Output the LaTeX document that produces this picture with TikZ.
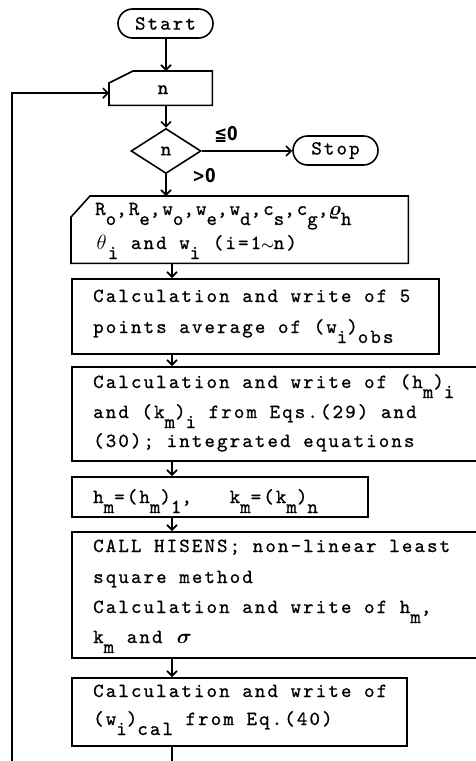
\documentclass[tikz,border=0pt]{standalone}
\usepackage{fontspec}
\usepackage{amsmath,amssymb}
\usetikzlibrary{arrows.meta,shapes.geometric,shapes.misc}
\newfontfamily\twfam{lmmono10-regular.otf}[LetterSpace=10.5,FakeBold=0.7]
\newfontfamily\labfam{DejaVu Sans}[FakeStretch=0.8]
\newcommand{\tw}{\twfam\fontsize{20}{30}\selectfont}
\newcommand{\subt}[1]{\raisebox{-10pt}{#1}}
\newcommand{\cellx}[1]{\makebox[12.65pt]{#1}}
\newcommand{\tsim}{{\fontsize{15}{15}\selectfont$\boldsymbol{\sim}$}}
\tikzset{
  ln/.style={line width=1.6pt},
  arr/.style={ln,-{Straight Barb[length=5pt,width=10pt,line width=1.6pt]}},
  boxn/.style={draw,ln,rectangle,inner sep=0pt,anchor=north west},
  blank/.style={rectangle,inner sep=0pt,anchor=north west},
  tx/.style={font=\tw,inner sep=0pt,anchor=base west},
  term/.style={draw,ln,rounded rectangle,inner sep=0pt,font=\tw},
  lab/.style={font=\labfam\bfseries\fontsize{19}{19}\selectfont,inner sep=0pt},
}
\begin{document}
\begin{tikzpicture}[x=1pt,y=-1pt]
\useasboundingbox (0,0) rectangle (476,761);
\clip (0,0) rectangle (476,761);
\coordinate (ax) at (172,0);
\coordinate (lx) at (12,790);

% terminals and decision
\node[term,minimum width=95pt,minimum height=29pt] (start) at (165.5,23.5) {Start};
\node[blank,minimum width=103pt,minimum height=34pt] (nbox) at (109,71) {};
\draw[ln] ([yshift=-12pt]nbox.north west) -- ([xshift=24pt]nbox.north west) -- (nbox.north east) -- (nbox.south east) -- (nbox.south west) -- cycle;
\node[tx,anchor=base] (ntx) at (163,94) {n};
\node[draw,ln,diamond,aspect=1.55,minimum width=70pt,minimum height=45pt,inner sep=0pt,font=\tw] (dec) at (166,151) {n};
\node[term,minimum width=85pt,minimum height=29pt] (stop) at (335.5,150.5) {Stop};
\node[lab] (le) at (226,134) {≦0};
\node[lab] (gt) at (204,176) {>0};

% parameter input box
\node[blank,minimum width=337pt,minimum height=67pt] (pbox) at (71,196) {};
\draw[ln] ([yshift=-21pt]pbox.north west) -- ([xshift=19pt]pbox.north west) -- (pbox.north east) -- (pbox.south east) -- (pbox.south west) -- cycle;
\node[tx] (p1) at (95,215) {R\subt{o},R\subt{e},w\subt{o},w\subt{e},w\subt{d},c\subt{s},c\subt{g},\cellx{$\boldsymbol{\varrho}$}\subt{h}};
\node[tx] (p2) at (95,249) {\cellx{$\theta$}\subt{i} and w\subt{i} (i=1\cellx{\tsim}n)};

% process boxes
\node[boxn,minimum width=367pt,minimum height=75pt] (b2) at (71,278) {};
\node[tx] (b2a) at (93,302) {Calculation and write of 5};
\node[tx] (b2b) at (93,333) {points average of (w\subt{i})\subt{obs}};

\node[boxn,minimum width=420pt,minimum height=94pt] (b3) at (71,366) {};
\node[tx] (b3a) at (93,388) {Calculation and write of (h\subt{m})\subt{i}};
\node[tx] (b3b) at (93,418) {and (k\subt{m})\subt{i} from Eqs.(29) and};
\node[tx] (b3c) at (93,447) {(30); integrated equations};

\node[boxn,minimum width=296pt,minimum height=40pt] (b4) at (71,476) {};
\node[tx] (b4a) at (93,503) {h\subt{m}=(h\subt{m})\subt{1},~~~k\subt{m}=(k\subt{m})\subt{n}};

\node[boxn,minimum width=420pt,minimum height=126pt] (b5) at (71,531) {};
\node[tx] (b5a) at (93,552) {CALL HISENS; non-linear least};
\node[tx] (b5b) at (93,583) {square method};
\node[tx] (b5c) at (93,613) {Calculation and write of h\subt{m},};
\node[tx] (b5d) at (93,643) {k\subt{m} and \kern3pt\cellx{$\boldsymbol{\sigma}$}};

\node[boxn,minimum width=335pt,minimum height=68pt] (b6) at (71,677) {};
\node[tx] (b6a) at (93,697) {Calculation and write of};
\node[tx] (b6b) at (93,725) {(w\subt{i})\subt{cal} from Eq.(40)};

% connectors
\draw[arr] (start.south -| dec.north) -- (dec.north |- nbox.north);
\draw[arr] (dec.north |- nbox.south) -- (dec.north);
\draw[arr] (dec.east) -- (dec.east -| stop.west);
\draw[arr] (dec.south) -- (dec.south |- pbox.north);
\draw[arr] (pbox.south -| ax) -- (b2.north -| ax);
\draw[arr] (b2.south -| ax) -- (b3.north -| ax);
\draw[arr] (b3.south -| ax) -- (b4.north -| ax);
\draw[arr] (b4.south -| ax) -- (b5.north -| ax);
\draw[arr] (b5.south -| ax) -- (b6.north -| ax);
\coordinate (nin) at ([yshift=-5pt]nbox.west);
\draw[arr] (b6.south -| ax) |- (lx) |- (nin);
\end{tikzpicture}
\end{document}
